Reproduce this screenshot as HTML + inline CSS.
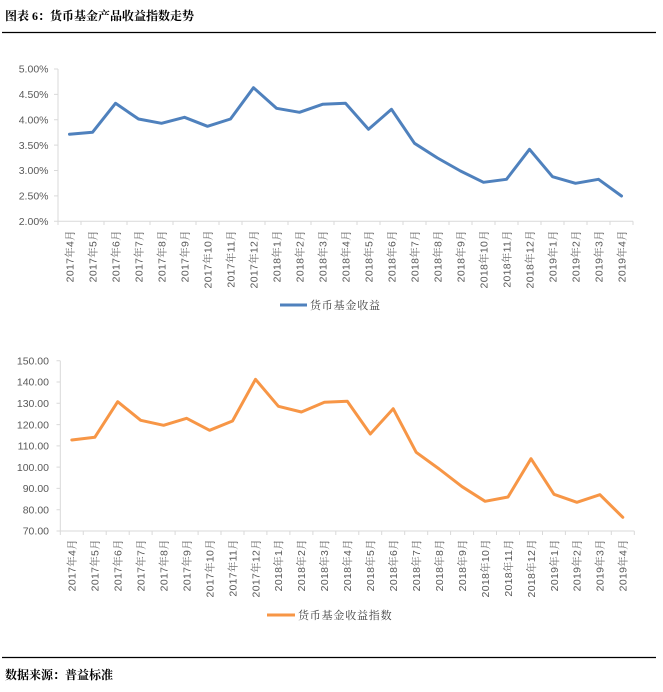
<!DOCTYPE html>
<html><head><meta charset="utf-8">
<style>
html,body{margin:0;padding:0;background:#fff;}
svg{display:block;}
.t{font-family:"Liberation Sans","Noto Serif CJK SC",sans-serif;fill:#595959;font-size:10.5px;}
.xl text{letter-spacing:0.3px;}
.ttl{font-family:"Liberation Serif","Noto Serif CJK SC",serif;font-weight:bold;font-size:12px;fill:#000;}
.lg{font-family:"Liberation Sans","Noto Serif CJK SC",sans-serif;fill:#404040;font-size:11px;letter-spacing:0.8px;}
</style></head>
<body>
<svg width="663" height="692" viewBox="0 0 663 692" xmlns="http://www.w3.org/2000/svg">
<rect width="663" height="692" fill="#fff"/>
<text class="ttl" x="5" y="20">图表 6：货币基金产品收益指数走势</text>
<line x1="2" y1="32.5" x2="656" y2="32.5" stroke="#000" stroke-width="1.2"/>

<!-- Chart 1 -->
<g stroke="#d9d9d9" stroke-width="1" fill="none">
<line x1="58" y1="69" x2="58" y2="221.3"/>
<line x1="58" y1="221.3" x2="633" y2="221.3"/>
<path d="M54 69H58M54 94.4H58M54 119.8H58M54 145.1H58M54 170.5H58M54 195.9H58M54 221.3H58"/>
<path d="M58 221.3V225M81 221.3V225M104 221.3V225M127 221.3V225M150 221.3V225M173 221.3V225M196 221.3V225M219 221.3V225M242 221.3V225M265 221.3V225M288 221.3V225M311 221.3V225M334 221.3V225M357 221.3V225M380 221.3V225M403 221.3V225M426 221.3V225M449 221.3V225M472 221.3V225M495 221.3V225M518 221.3V225M541 221.3V225M564 221.3V225M587 221.3V225M610 221.3V225M633 221.3V225"/>
</g>
<g class="t" text-anchor="end">
<text x="48.5" y="72.7">5.00%</text>
<text x="48.5" y="98.1">4.50%</text>
<text x="48.5" y="123.5">4.00%</text>
<text x="48.5" y="148.8">3.50%</text>
<text x="48.5" y="174.2">3.00%</text>
<text x="48.5" y="199.6">2.50%</text>
<text x="48.5" y="225">2.00%</text>
</g>
<polyline fill="none" stroke="#4F81BD" stroke-width="3" stroke-linejoin="round" stroke-linecap="round" points="69.5,134.3 92.5,132.3 115.5,103.3 138.5,119 161.5,123.3 184.5,117.3 207.5,126.3 230.5,119 253.5,87.7 276.5,108.3 299.5,112.3 322.5,104.3 345.5,103.3 368.5,129.3 391.5,109.3 414.5,143.3 437.5,158 460.5,171 483.5,182.3 506.5,179.3 529.5,149.3 552.5,176.7 575.5,183.3 598.5,179.3 621.5,196"/>
<g class="t xl" text-anchor="end">
<text transform="translate(73.3,230) rotate(-90)">2017年4月</text>
<text transform="translate(96.3,230) rotate(-90)">2017年5月</text>
<text transform="translate(119.3,230) rotate(-90)">2017年6月</text>
<text transform="translate(142.3,230) rotate(-90)">2017年7月</text>
<text transform="translate(165.3,230) rotate(-90)">2017年8月</text>
<text transform="translate(188.3,230) rotate(-90)">2017年9月</text>
<text transform="translate(211.3,230) rotate(-90)">2017年10月</text>
<text transform="translate(234.3,230) rotate(-90)">2017年11月</text>
<text transform="translate(257.3,230) rotate(-90)">2017年12月</text>
<text transform="translate(280.3,230) rotate(-90)">2018年1月</text>
<text transform="translate(303.3,230) rotate(-90)">2018年2月</text>
<text transform="translate(326.3,230) rotate(-90)">2018年3月</text>
<text transform="translate(349.3,230) rotate(-90)">2018年4月</text>
<text transform="translate(372.3,230) rotate(-90)">2018年5月</text>
<text transform="translate(395.3,230) rotate(-90)">2018年6月</text>
<text transform="translate(418.3,230) rotate(-90)">2018年7月</text>
<text transform="translate(441.3,230) rotate(-90)">2018年8月</text>
<text transform="translate(464.3,230) rotate(-90)">2018年9月</text>
<text transform="translate(487.3,230) rotate(-90)">2018年10月</text>
<text transform="translate(510.3,230) rotate(-90)">2018年11月</text>
<text transform="translate(533.3,230) rotate(-90)">2018年12月</text>
<text transform="translate(556.3,230) rotate(-90)">2019年1月</text>
<text transform="translate(579.3,230) rotate(-90)">2019年2月</text>
<text transform="translate(602.3,230) rotate(-90)">2019年3月</text>
<text transform="translate(625.3,230) rotate(-90)">2019年4月</text>
</g>
<line x1="280" y1="305" x2="307" y2="305" stroke="#4F81BD" stroke-width="3"/>
<text class="lg" x="310" y="309">货币基金收益</text>

<!-- Chart 2 -->
<g stroke="#d9d9d9" stroke-width="1" fill="none">
<line x1="60.3" y1="360.7" x2="60.3" y2="531"/>
<line x1="60.3" y1="531" x2="634.3" y2="531"/>
<path d="M56.5 360.7H60.3M56.5 382H60.3M56.5 403.3H60.3M56.5 424.6H60.3M56.5 445.9H60.3M56.5 467.1H60.3M56.5 488.4H60.3M56.5 509.7H60.3M56.5 531H60.3"/>
<path d="M60.3 531V535M83.26 531V535M106.2 531V535M129.2 531V535M152.1 531V535M175.1 531V535M198.1 531V535M221 531V535M244 531V535M266.9 531V535M289.9 531V535M312.9 531V535M335.8 531V535M358.8 531V535M381.7 531V535M404.7 531V535M427.7 531V535M450.6 531V535M473.6 531V535M496.5 531V535M519.5 531V535M542.5 531V535M565.4 531V535M588.4 531V535M611.3 531V535M634.3 531V535"/>
</g>
<g class="t" text-anchor="end">
<text x="49" y="364.4">150.00</text>
<text x="49" y="385.7">140.00</text>
<text x="49" y="407">130.00</text>
<text x="49" y="428.3">120.00</text>
<text x="49" y="449.6">110.00</text>
<text x="49" y="470.8">100.00</text>
<text x="49" y="492.1">90.00</text>
<text x="49" y="513.4">80.00</text>
<text x="49" y="534.7">70.00</text>
</g>
<polyline fill="none" stroke="#F79646" stroke-width="3" stroke-linejoin="round" stroke-linecap="round" points="71.8,440 94.8,437.3 117.7,401.7 140.7,420.3 163.6,425.3 186.6,418.3 209.6,430.3 232.5,421 255.5,379.3 278.4,406.3 301.4,412 324.4,402.3 347.3,401.3 370.3,434 393.2,408.7 416.2,452.3 439.2,469 462.1,486.7 485.1,501.3 508,497 531,458.7 554,494.3 576.9,502.3 599.9,494.7 622.8,517.3"/>
<g class="t xl" text-anchor="end">
<text transform="translate(75.6,539) rotate(-90)">2017年4月</text>
<text transform="translate(98.6,539) rotate(-90)">2017年5月</text>
<text transform="translate(121.5,539) rotate(-90)">2017年6月</text>
<text transform="translate(144.5,539) rotate(-90)">2017年7月</text>
<text transform="translate(167.4,539) rotate(-90)">2017年8月</text>
<text transform="translate(190.4,539) rotate(-90)">2017年9月</text>
<text transform="translate(213.4,539) rotate(-90)">2017年10月</text>
<text transform="translate(236.3,539) rotate(-90)">2017年11月</text>
<text transform="translate(259.3,539) rotate(-90)">2017年12月</text>
<text transform="translate(282.2,539) rotate(-90)">2018年1月</text>
<text transform="translate(305.2,539) rotate(-90)">2018年2月</text>
<text transform="translate(328.2,539) rotate(-90)">2018年3月</text>
<text transform="translate(351.1,539) rotate(-90)">2018年4月</text>
<text transform="translate(374.1,539) rotate(-90)">2018年5月</text>
<text transform="translate(397,539) rotate(-90)">2018年6月</text>
<text transform="translate(420,539) rotate(-90)">2018年7月</text>
<text transform="translate(443,539) rotate(-90)">2018年8月</text>
<text transform="translate(465.9,539) rotate(-90)">2018年9月</text>
<text transform="translate(488.9,539) rotate(-90)">2018年10月</text>
<text transform="translate(511.8,539) rotate(-90)">2018年11月</text>
<text transform="translate(534.8,539) rotate(-90)">2018年12月</text>
<text transform="translate(557.8,539) rotate(-90)">2019年1月</text>
<text transform="translate(580.7,539) rotate(-90)">2019年2月</text>
<text transform="translate(603.7,539) rotate(-90)">2019年3月</text>
<text transform="translate(626.6,539) rotate(-90)">2019年4月</text>
</g>
<line x1="267" y1="615" x2="295" y2="615" stroke="#F79646" stroke-width="3"/>
<text class="lg" x="298" y="619">货币基金收益指数</text>

<line x1="2" y1="657.5" x2="656" y2="657.5" stroke="#000" stroke-width="1.2"/>
<text class="ttl" x="5" y="679">数据来源：普益标准</text>
</svg>
</body></html>
